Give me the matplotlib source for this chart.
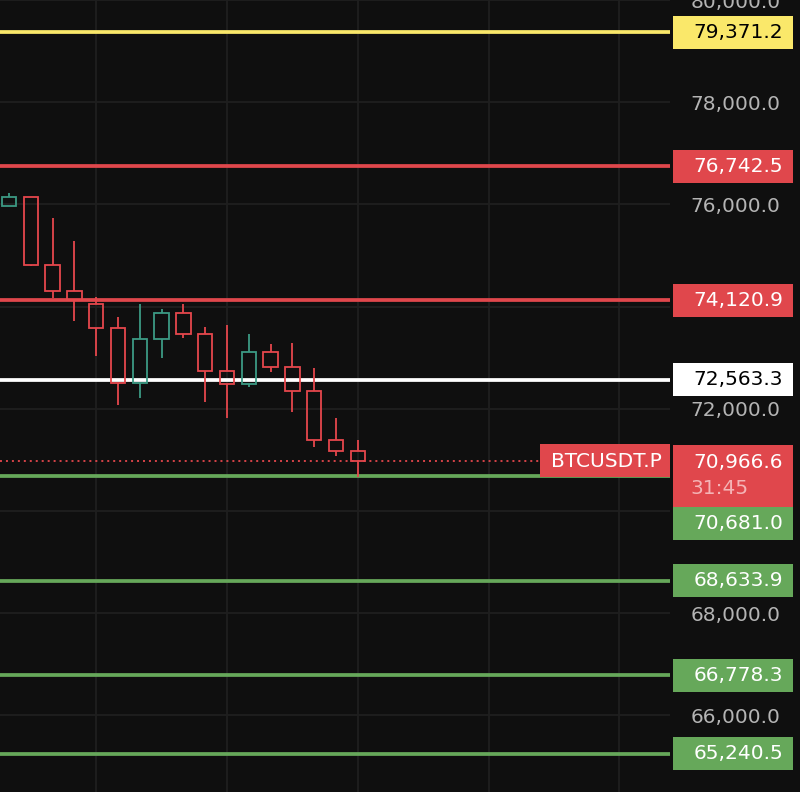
import matplotlib
matplotlib.use("Agg")
import matplotlib.pyplot as plt
from matplotlib.patches import Rectangle
from matplotlib.transforms import blended_transform_factory

# candles (oldest -> newest)
opens = [75962, 76143, 74809, 74301, 74058, 73577, 72503, 73362, 73871, 73460,
         72737, 72483, 73108, 72807, 72346, 71389, 71174]
highs = [76222, 76150, 75733, 75284, 74189, 73798, 74058, 73955, 74058, 73603,
         73642, 73466, 73271, 73290, 72802, 71824, 71394]
lows = [75962, 74800, 74175, 73720, 73022, 72078, 72202, 72983, 73374, 72123,
        71811, 72417, 72710, 71928, 71244, 71082, 70658]
closes = [76143, 74809, 74301, 74125, 73577, 72503, 73362, 73871, 73460, 72737,
          72483, 73108, 72807, 72346, 71389, 71174, 70966.6]

# horizontal levels
level_prices = [79371.2, 76742.5, 74120.9, 72563.3, 70681.0, 68633.9, 66778.3, 65240.5]
level_kinds = ["yellow", "red", "red", "white", "green", "green", "green", "green"]
last_price = 70966.6
symbol = "BTCUSDT.P"
countdown = "31:45"

price_ticks = [66000, 68000, 70000, 72000, 74000, 76000, 78000, 80000]

BG = "#0f0f0f"
GRID = "#1f1f1f"
UP = "#3c9a84"
DOWN = "#e5474c"
line_col = {"yellow": "#fae86a", "red": "#e0474c", "white": "#ffffff", "green": "#66a85a"}
box_txt = {"yellow": "black", "red": "white", "white": "black", "green": "white"}

W, H = 800, 792
YMIN, YMAX = 64496, 79974
PX = (YMAX - YMIN) / H  # price units per pixel

# where the price-scale tags end up (last-price block pushes neighbours down)
block_top = last_price + 16 * PX
block_bottom = last_price - 46 * PX
tag_centers = []
for p in level_prices:
    if abs(p - last_price) < 40 * PX:
        tag_centers.append(block_bottom - 16.5 * PX)
    else:
        tag_centers.append(p)


def covered(v):
    if block_bottom - 10 * PX < v < block_top + 10 * PX:
        return True
    return any(abs(v - c) < 26 * PX for c in tag_centers)


fig = plt.figure(figsize=(W / 100, H / 100), dpi=100, facecolor=BG)
ax = fig.add_axes([0, 0, 670 / W, 1], facecolor=BG)
ax.set_ylim(YMIN, YMAX)
ax.set_xlim(-0.41, 30.32)
for s in ax.spines.values():
    s.set_visible(False)

ax.set_xticks([4, 10, 16, 22, 28])
ax.set_yticks(price_ticks)
ax.set_yticklabels(["" if covered(v) else f"{v:,.1f}" for v in price_ticks])
ax.tick_params(axis="x", length=0, labelbottom=False)
ax.tick_params(axis="y", length=0, pad=14.5, labelleft=False, labelright=True,
               labelsize=14.5, labelcolor="#b4b4b4")
ax.grid(True, color=GRID, lw=1.3)
ax.set_axisbelow(True)

# level lines
for p, k in zip(level_prices, level_kinds):
    ax.axhline(p, color=line_col[k], lw=2.7, zorder=2)
ax.axhline(last_price, color=DOWN, lw=1.3, ls=(0, (1.1, 2.2)), zorder=2)

# candles
bw = 0.66
for i, (o, h, l, c) in enumerate(zip(opens, highs, lows, closes)):
    col = UP if c >= o else DOWN
    top, bot = max(o, c), min(o, c)
    ax.vlines(i, top, h, color=col, lw=1.3, zorder=3)
    ax.vlines(i, l, bot, color=col, lw=1.3, zorder=3)
    ax.add_patch(Rectangle((i - bw / 2, bot), bw, top - bot, facecolor="none",
                           edgecolor=col, lw=1.3, zorder=3))

# symbol tag on the last-price line
bt = blended_transform_factory(ax.transAxes, ax.transData)
ax.add_patch(Rectangle((540 / 670, last_price - 16 * PX), 1 - 540 / 670, 33 * PX,
                       transform=bt, facecolor="#e0474c", edgecolor="none",
                       zorder=6, clip_on=False))
ax.text(606 / 670, last_price, symbol, transform=bt, ha="center", va="center",
        color="white", fontsize=14.5, zorder=7, clip_on=False)

# price scale labels
sax = fig.add_axes([670 / W, 0, 130 / W, 1], sharey=ax)
sax.set_xlim(0, 130)
sax.axis("off")
sax.patch.set_visible(False)

bx0, bx1, tx = 3, 123, 113


def tag(center, text, face, tcol, height=33):
    sax.add_patch(Rectangle((bx0, center - height / 2 * PX), bx1 - bx0, height * PX,
                            facecolor=face, edgecolor="none", zorder=3, clip_on=False))
    sax.text(tx, center, text, ha="right", va="center", color=tcol,
             fontsize=14.5, zorder=4, clip_on=False)


# last price block (two lines)
sax.add_patch(Rectangle((bx0, block_bottom), bx1 - bx0, block_top - block_bottom,
                        facecolor="#e0474c", edgecolor="none", zorder=3, clip_on=False))
sax.text(tx, last_price - 1 * PX, f"{last_price:,.1f}", ha="right", va="center",
         color="white", fontsize=14.5, zorder=4)
sax.text(tx - 93, last_price - 27 * PX, countdown, ha="left", va="center",
         color="#f4b4b6", fontsize=14.5, zorder=4)

for p, k, c in zip(level_prices, level_kinds, tag_centers):
    tag(c, f"{p:,.1f}", line_col[k], box_txt[k])

fig.savefig("out.png", dpi=100, facecolor=BG)
